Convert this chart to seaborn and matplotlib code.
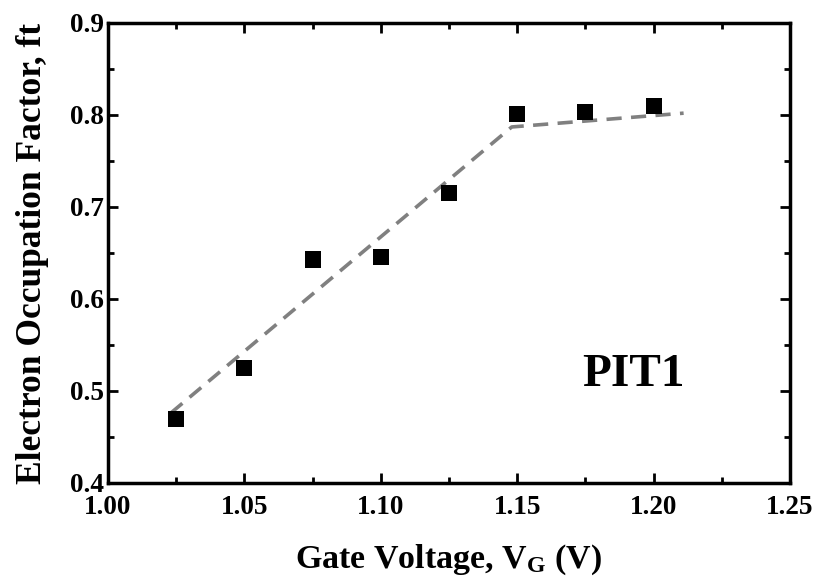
import matplotlib
matplotlib.use("Agg")
import matplotlib.pyplot as plt
import seaborn as sns
import pandas as pd
from matplotlib.ticker import MultipleLocator, FormatStrFormatter

gate_voltage = [1.025, 1.05, 1.075, 1.10, 1.125, 1.15, 1.175, 1.20]
occupation = [0.470, 0.525, 0.643, 0.646, 0.715, 0.801, 0.803, 0.810]
fit_x = [1.023, 1.148, 1.211]
fit_y = [0.476, 0.787, 0.802]

sns.set_style("ticks")
plt.rcParams['font.family'] = ['Liberation Serif', 'DejaVu Serif']
plt.rcParams['font.weight'] = 'bold'
plt.rcParams['mathtext.fontset'] = 'custom'
plt.rcParams['mathtext.rm'] = 'Liberation Serif:bold'
for k in ['text.color', 'axes.labelcolor', 'xtick.color', 'ytick.color', 'axes.edgecolor']:
    plt.rcParams[k] = 'black'

fig = plt.figure(figsize=(8.17, 5.86), dpi=100)
ax = fig.add_axes([108/817, 1-483/586, (790-108)/817, (483-23)/586])

df = pd.DataFrame({'x': gate_voltage, 'y': occupation})
fit = pd.DataFrame({'x': fit_x, 'y': fit_y})
sns.lineplot(data=fit, x='x', y='y', ax=ax, color='#808080', lw=2.6,
             dashes=False, linestyle=(0, (4.2, 2.6)))
sns.scatterplot(data=df, x='x', y='y', ax=ax, marker='s', s=135, color='black',
                edgecolor='none', zorder=3)

ax.set_xlim(1.0, 1.25)
ax.set_ylim(0.4, 0.9)
ax.xaxis.set_major_locator(MultipleLocator(0.05))
ax.xaxis.set_minor_locator(MultipleLocator(0.025))
ax.yaxis.set_major_locator(MultipleLocator(0.1))
ax.yaxis.set_minor_locator(MultipleLocator(0.05))
ax.xaxis.set_major_formatter(FormatStrFormatter('%.2f'))
ax.yaxis.set_major_formatter(FormatStrFormatter('%.1f'))
ax.tick_params(which='both', direction='in', top=True, right=True, width=2, labelsize=19.5)
ax.tick_params(which='major', length=7)
ax.tick_params(which='minor', length=4)
ax.tick_params(axis='x', which='major', pad=9)
ax.tick_params(axis='y', which='major', pad=3)
for sp in ax.spines.values():
    sp.set_linewidth(2.5)
    sp.set_visible(True)
for lab in ax.get_xticklabels() + ax.get_yticklabels():
    lab.set_fontweight('bold')

ax.set_xlabel(r'Gate Voltage, V$\mathregular{_G}$ (V)', fontsize=24.5, fontweight='bold', labelpad=16)
ax.set_ylabel('Electron Occupation Factor, ft', fontsize=25.5, fontweight='bold', labelpad=15)
ax.text(1.1925, 0.517, 'PIT1', fontsize=34, fontweight='bold', ha='center', va='center')

fig.savefig('out.png', dpi=100)
